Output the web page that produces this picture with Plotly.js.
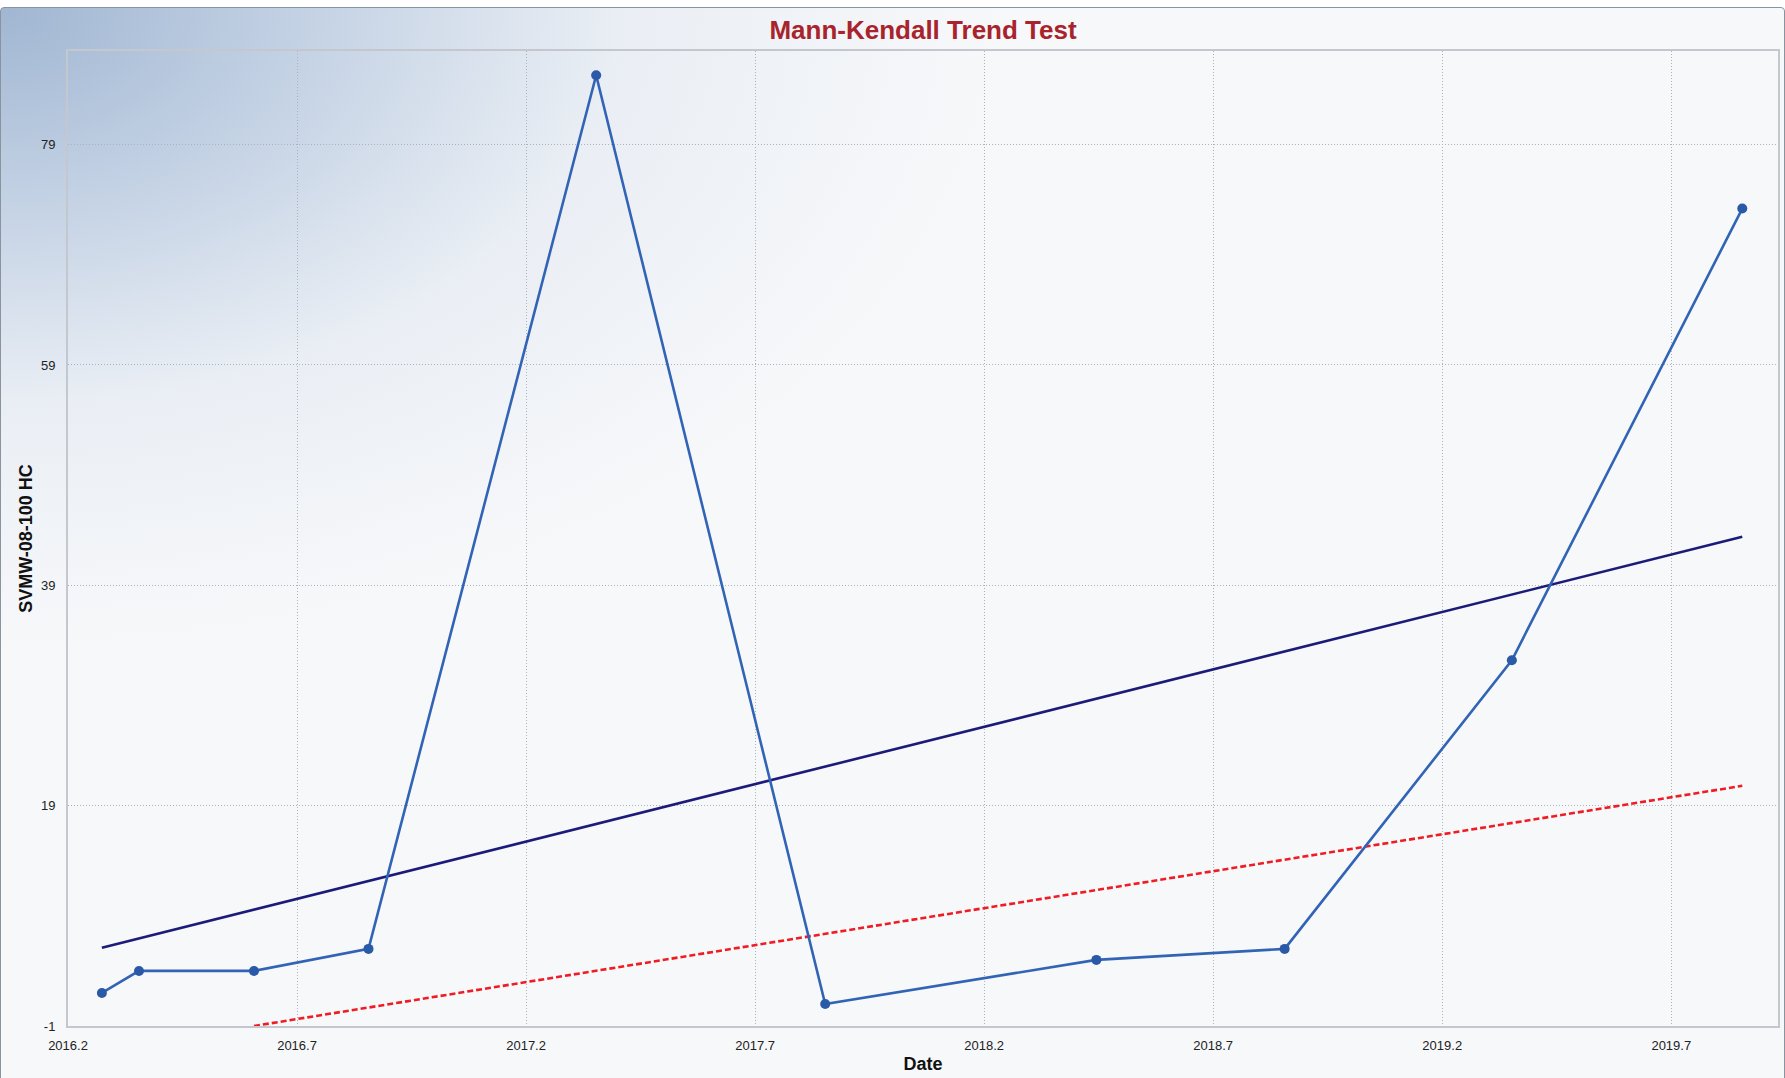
<!DOCTYPE html>
<html>
<head>
<meta charset="utf-8">
<script src="https://cdn.plot.ly/plotly-3.0.1.min.js"></script>
<style>
  html, body { margin: 0; padding: 0; background: #ffffff; }
  #frame {
    position: absolute; left: 0; top: 7px; width: 1783px; height: 1075px;
    border: 1px solid #8a949f; border-radius: 4px;
    background:
      radial-gradient(ellipse 1000px 640px at 0px 0px, rgba(160,182,210,1) 0%, rgba(188,204,225,0.88) 30%, rgba(225,232,241,0.6) 62%, rgba(247,248,250,0) 100%),
      #f7f8fa;
  }
  #chart { position: absolute; left: 0; top: 0; width: 1785px; height: 1078px; }
</style>
</head>
<body>
<div id="frame"></div>
<div id="chart"></div>
<script>
// Observed series (decimal year vs. concentration)
const dates = [2016.274, 2016.355, 2016.606, 2016.856, 2017.353, 2017.853, 2018.445, 2018.856, 2019.352, 2019.855];
const values = [2, 4, 4, 6, 85.3, 1, 5, 6, 32.2, 73.2];

// Trend line (Sen's slope) endpoints
const trendX = [2016.274, 2019.855];
const trendY = [6.1, 43.4];

// Lower confidence line endpoints
const lowerX = [2016.606, 2019.855];
const lowerY = [-1, 20.8];

// Axis ticks
const xTicks = [2016.2, 2016.7, 2017.2, 2017.7, 2018.2, 2018.7, 2019.2, 2019.7];
const xTickLabels = ["2016.2", "2016.7", "2017.2", "2017.7", "2018.2", "2018.7", "2019.2", "2019.7"];
const yTicks = [-1, 19, 39, 59, 79];
const yTickLabels = ["-1", "19", "39", "59", "79"];

const FONT = "Liberation Sans, Arial, sans-serif";

const traces = [
  {
    x: trendX, y: trendY, type: "scatter", mode: "lines",
    line: { color: "#1c1c78", width: 2.6 }, hoverinfo: "skip"
  },
  {
    x: lowerX, y: lowerY, type: "scatter", mode: "lines",
    line: { color: "#f01c24", width: 2.6, dash: "6px,3px" }, hoverinfo: "skip"
  },
  {
    x: dates, y: values, type: "scatter", mode: "lines+markers",
    line: { color: "#3264b6", width: 2.6 },
    marker: { color: "#2a59a8", size: 10 }
  }
];

const layout = {
  width: 1785, height: 1078,
  margin: { l: 68, r: 7, t: 51, b: 52 },
  paper_bgcolor: "rgba(0,0,0,0)",
  plot_bgcolor: "rgba(0,0,0,0)",
  showlegend: false,
  font: { family: FONT, color: "#222" },
  title: {
    text: "<b>Mann-Kendall Trend Test</b>",
    font: { family: FONT, size: 26, color: "#a8232b" },
    x: 0.5, xref: "paper", xanchor: "center",
    y: 1 - 30 / 1078, yref: "container", yanchor: "middle"
  },
  xaxis: {
    range: [2016.2, 2019.933],
    tickmode: "array", tickvals: xTicks, ticktext: xTickLabels,
    tickfont: { family: FONT, size: 13, color: "#222" },
    ticks: "", ticklabelstandoff: 6,
    showgrid: true, gridcolor: "#aab2bb", griddash: "1px,2px", gridwidth: 1,
    zeroline: false,
    showline: true, linecolor: "#c4c8ce", linewidth: 2, mirror: true,
    title: { text: "<b>Date</b>", font: { family: FONT, size: 18, color: "#111" }, standoff: 6 },
    automargin: false
  },
  yaxis: {
    range: [-1, 87.5],
    tickmode: "array", tickvals: yTicks, ticktext: yTickLabels,
    tickfont: { family: FONT, size: 13, color: "#222" },
    ticks: "", ticklabelstandoff: 8,
    showgrid: true, gridcolor: "#aab2bb", griddash: "1px,2px", gridwidth: 1,
    zeroline: false,
    showline: true, linecolor: "#c4c8ce", linewidth: 2, mirror: true,
    title: { text: "<b>SVMW-08-100 HC</b>", font: { family: FONT, size: 18, color: "#111" }, standoff: 4 },
    automargin: false
  }
};

Plotly.newPlot("chart", traces, layout, { displayModeBar: false, staticPlot: true });
</script>
</body>
</html>
